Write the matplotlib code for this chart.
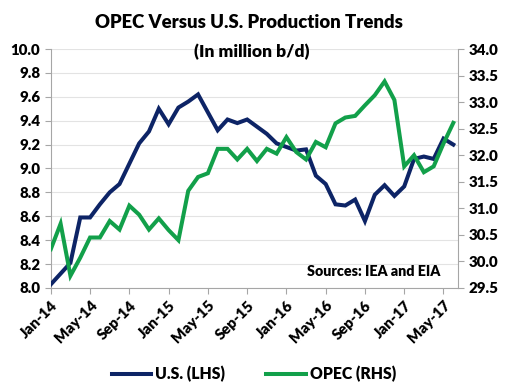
import numpy as np
import matplotlib
matplotlib.use('Agg')
import matplotlib.pyplot as plt

plt.rcParams['font.family'] = ['Lato', 'DejaVu Sans']
plt.rcParams['font.weight'] = 'heavy'

# monthly data, Jan-14 .. Jun-17
us = [8.03, 8.12, 8.21, 8.59, 8.59, 8.70, 8.80, 8.87, 9.04, 9.21,
      9.31, 9.50, 9.37, 9.51, 9.56, 9.62, 9.47, 9.32, 9.41, 9.38,
      9.41, 9.35, 9.29, 9.21, 9.18, 9.15, 9.16, 8.94, 8.87, 8.70,
      8.69, 8.74, 8.56, 8.78, 8.86, 8.77, 8.85, 9.08, 9.10, 9.08,
      9.25, 9.20]
opec = [30.23, 30.71, 29.73, 30.07, 30.45, 30.45, 30.76, 30.60, 31.05, 30.88,
        30.60, 30.81, 30.59, 30.40, 31.33, 31.59, 31.66, 32.12, 32.12, 31.92,
        32.12, 31.89, 32.12, 32.03, 32.34, 32.06, 31.92, 32.25, 32.15, 32.60,
        32.71, 32.74, 32.94, 33.13, 33.39, 33.04, 31.79, 32.00, 31.68, 31.79,
        32.22, 32.61]
tick_labels = ['Jan-14', 'May-14', 'Sep-14', 'Jan-15', 'May-15', 'Sep-15',
               'Jan-16', 'May-16', 'Sep-16', 'Jan-17', 'May-17']

navy = '#0d2466'
green = '#12a04a'
grey = '#a6a6a6'

x = np.arange(len(us))

fig = plt.figure(figsize=(5.08, 3.86), dpi=100)
ax = fig.add_axes([0.100, 0.254, 0.802, 0.619])
ax2 = ax.twinx()

l1, = ax.plot(x, us, color=navy, lw=2.9, solid_joinstyle='miter', zorder=3)
l2, = ax2.plot(x, opec, color=green, lw=2.9, solid_joinstyle='miter', zorder=3)

ax.set_ylim(8.0, 10.0)
ax.set_yticks(np.arange(8.0, 10.01, 0.2))
ax.set_yticklabels(['%.1f' % v for v in np.arange(8.0, 10.01, 0.2)])
ax2.set_ylim(29.5, 34.0)
ax2.set_yticks(np.arange(29.5, 34.01, 0.5))
ax2.set_yticklabels(['%.1f' % v for v in np.arange(29.5, 34.01, 0.5)])
ax.set_xlim(0, 41.5)
ax.set_xticks(np.arange(0, 41, 4))
ax.set_xticklabels(tick_labels, rotation=45, ha='right', rotation_mode='anchor')

ax.grid(axis='y', color='#e3e3e3', lw=0.8)
ax.set_axisbelow(True)

for a in (ax, ax2):
    a.spines['top'].set_visible(False)
    for s in ('left', 'right', 'bottom'):
        a.spines[s].set_color(grey)
    a.tick_params(colors=grey, labelcolor='black', labelsize=10.8, length=4, width=0.8)

ax.spines['right'].set_visible(False)
ax2.spines['left'].set_visible(False)
ax2.spines['bottom'].set_visible(False)

fig.text(0.491, 0.943, 'OPEC Versus U.S. Production Trends', ha='center', va='center',
         fontsize=13.3, fontweight='heavy')
fig.text(0.496, 0.865, '(In million b/d)', ha='center', va='center',
         fontsize=12.6, fontweight='heavy')
ax.text(0.955, 0.07, 'Sources: IEA and EIA', transform=ax.transAxes, ha='right',
        va='center', fontsize=10.3, fontweight='heavy')

fig.legend([l1, l2], ['U.S. (LHS)', 'OPEC (RHS)'], loc='center',
           bbox_to_anchor=(0.5, 0.03), ncol=2, frameon=False, fontsize=11.3,
           handlelength=2.5, columnspacing=2.6, handletextpad=0.3)

fig.savefig('out.png', dpi=100)
